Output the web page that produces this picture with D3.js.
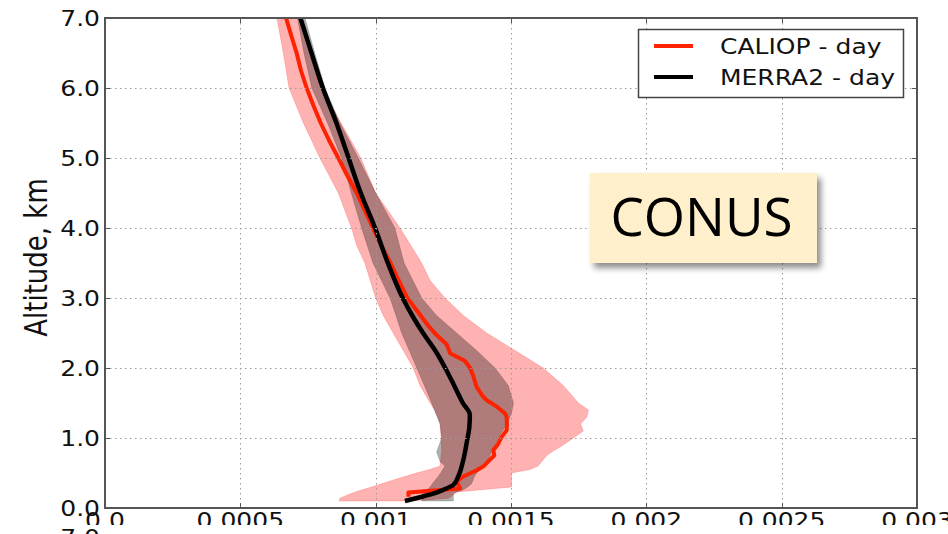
<!DOCTYPE html>
<html>
<head>
<meta charset="utf-8">
<script src="https://cdn.jsdelivr.net/npm/d3@7"></script>
<style>
  html, body { margin: 0; padding: 0; background: #fff; }
  svg { display: block; }
</style>
</head>
<body>
<svg id="chart" width="948" height="534"></svg>
<script>
// Extinction profiles over CONUS, daytime: CALIOP vs MERRA2
const xTicks = [0, 0.0005, 0.001, 0.0015, 0.002, 0.0025, 0.003];
const xTickLabels = ["0.0", "0.0005", "0.001", "0.0015", "0.002", "0.0025", "0.003"];
const yTicks = [0, 1, 2, 3, 4, 5, 6, 7];
const yTickLabels = ["0.0", "1.0", "2.0", "3.0", "4.0", "5.0", "6.0", "7.0"];
const seriesNames = ["CALIOP - day", "MERRA2 - day"];
const regionName = "CONUS";

// CALIOP mean profile (altitude km, value)
const caliopAlt = [0.16, 0.22, 0.28, 0.38, 0.45, 0.54, 0.60, 0.69, 0.75, 0.83, 0.90, 1.02, 1.11, 1.20, 1.30,
  1.35, 1.45, 1.54, 1.60, 1.73, 1.88, 2.00, 2.10, 2.21, 2.28, 2.34, 2.47, 2.60, 2.75, 3.00, 3.25, 3.50, 3.75,
  4.00, 4.25, 4.50, 4.75, 5.00, 5.25, 5.50, 5.75, 6.00, 6.25, 6.50, 6.75, 7.00];
const caliopMean = [0.001121, 0.001121, 0.001312, 0.001299, 0.001324, 0.001373, 0.001400, 0.001422, 0.001438,
  0.001435, 0.001450, 0.001466, 0.001484, 0.001485, 0.001484, 0.001478, 0.001447, 0.001410, 0.001395, 0.001373,
  0.001361, 0.001349, 0.001330, 0.001275, 0.001268, 0.001262, 0.001225, 0.001195, 0.001166, 0.001117, 0.001085,
  0.001055, 0.001020, 0.000990, 0.000960, 0.000930, 0.000895, 0.000862, 0.000828, 0.000797, 0.000770, 0.000745,
  0.000724, 0.000708, 0.000688, 0.000669];

// CALIOP spread (lower / upper edge)
const caliopBandAlt = [0.10, 0.14, 0.20, 0.23, 0.27, 0.30, 0.40, 0.50, 0.55, 0.60, 0.75, 0.80, 0.90, 1.00, 1.10,
  1.20, 1.30, 1.40, 1.50, 1.75, 2.00, 2.25, 2.50, 2.75, 3.00, 3.25, 3.50, 3.75, 4.00, 4.50, 5.00, 5.50, 6.00, 6.50, 7.00];
const caliopLow = [0.000865, 0.000868, 0.000905, 0.000925, 0.000960, 0.000985, 0.001065, 0.001151, 0.001200,
  0.001238, 0.001242, 0.001244, 0.001243, 0.001242, 0.001240, 0.001238, 0.001230, 0.001218, 0.001201, 0.001164,
  0.001139, 0.001102, 0.001065, 0.001028, 0.001000, 0.000980, 0.000960, 0.000930, 0.000911, 0.000862, 0.000794,
  0.000733, 0.000680, 0.000659, 0.000635];
const caliopHigh = [0.001130, 0.001270, 0.001290, 0.001300, 0.001420, 0.001502, 0.001502, 0.001502, 0.001570,
  0.001600, 0.001632, 0.001650, 0.001693, 0.001730, 0.001767, 0.001757, 0.001780, 0.001786, 0.001749, 0.001693,
  0.001619, 0.001515, 0.001410, 0.001324, 0.001256, 0.001201, 0.001170, 0.001130, 0.001090, 0.001000, 0.000945,
  0.000872, 0.000800, 0.000760, 0.000720];

// MERRA2 mean profile
const merraAlt = [0.10, 0.15, 0.19, 0.26, 0.33, 0.45, 0.69, 0.97, 1.15, 1.33, 1.50, 1.75, 2.00, 2.25, 2.50, 2.75,
  3.00, 3.50, 4.00, 4.50, 5.00, 5.50, 6.00, 6.50, 7.00];
const merraMean = [0.001108, 0.001160, 0.001200, 0.001250, 0.001287, 0.001305, 0.001324, 0.001338, 0.001346,
  0.001348, 0.001322, 0.001290, 0.001257, 0.001220, 0.001175, 0.001135, 0.001100, 0.001045, 0.000998, 0.000945,
  0.000900, 0.000855, 0.000805, 0.000763, 0.000722];

// MERRA2 spread
const merraBandAlt = [0.10, 0.21, 0.26, 0.30, 0.35, 0.45, 0.50, 0.60, 0.66, 0.80, 1.00, 1.20, 1.35, 1.50, 1.75,
  2.00, 2.25, 2.50, 2.75, 3.00, 3.50, 4.00, 4.50, 5.00, 5.50, 6.00, 6.50, 7.00];
const merraLow = [0.001170, 0.001176, 0.001190, 0.001201, 0.001210, 0.001231, 0.001240, 0.001256, 0.001238,
  0.001225, 0.001244, 0.001238, 0.001222, 0.001207, 0.001180, 0.001152, 0.001124, 0.001096, 0.001075, 0.001053,
  0.000990, 0.000948, 0.000910, 0.000874, 0.000822, 0.000764, 0.000735, 0.000711];
const merraHigh = [0.001287, 0.001287, 0.001324, 0.001340, 0.001355, 0.001365, 0.001373, 0.001404, 0.001410,
  0.001429, 0.001453, 0.001484, 0.001502, 0.001509, 0.001490, 0.001441, 0.001373, 0.001299, 0.001225, 0.001170,
  0.001105, 0.001071, 0.001000, 0.000936, 0.000868, 0.000813, 0.000775, 0.000739];

const svg = d3.select("#chart");
const plot = { left: 105, right: 917, top: 18, bottom: 508 };
const STRETCH = 1.22;          // horizontally widened text of the figure
const tickFont = "DejaVu Sans";
const caliopColor = "#ff2200";

const x = d3.scaleLinear().domain([0, 0.003]).range([plot.left, plot.right]);
const y = d3.scaleLinear().domain([0, 7]).range([plot.bottom, plot.top]);

const defs = svg.append("defs");
defs.append("clipPath").attr("id", "plotClip")
  .append("rect").attr("x", plot.left).attr("y", plot.top)
  .attr("width", plot.right - plot.left).attr("height", plot.bottom - plot.top);
defs.append("clipPath").attr("id", "tickClip")
  .append("rect").attr("x", 0).attr("y", 0).attr("width", 948).attr("height", 525);
const shadow = defs.append("filter").attr("id", "boxShadow")
  .attr("x", "-20%").attr("y", "-20%").attr("width", "140%").attr("height", "150%");
shadow.append("feDropShadow").attr("dx", 4).attr("dy", 5).attr("stdDeviation", 3)
  .attr("flood-color", "#000").attr("flood-opacity", 0.45);

function zipBand(alt, lo, hi) { return alt.map((a, i) => ({ a, lo: lo[i], hi: hi[i] })); }
function zipLine(alt, v) { return alt.map((a, i) => ({ a, v: v[i] })); }

// text helper: widened glyphs anchored at (px, py)
function wideText(parent, px, py, str, opts) {
  return parent.append("text")
    .attr("transform", `translate(${px},${py}) scale(${STRETCH},1)`)
    .attr("text-anchor", opts.anchor || "start")
    .attr("font-family", opts.family || tickFont)
    .attr("font-size", opts.size)
    .attr("fill", "#111")
    .text(str);
}

const area = d3.area().y(d => y(d.a)).x0(d => x(d.lo)).x1(d => x(d.hi));
const line = d3.line().x(d => x(d.v)).y(d => y(d.a));

const g = svg.append("g").attr("clip-path", "url(#plotClip)");

// spread bands
g.append("path").datum(zipBand(caliopBandAlt, caliopLow, caliopHigh))
  .attr("d", area).attr("fill", "rgb(255,0,0)").attr("fill-opacity", 0.3)
  .attr("stroke", "rgb(255,0,0)").attr("stroke-opacity", 0.18).attr("stroke-width", 1);
g.append("path").datum(zipBand(merraBandAlt, merraLow, merraHigh))
  .attr("d", area).attr("fill", "#000").attr("fill-opacity", 0.31)
  .attr("stroke", "#000").attr("stroke-opacity", 0.15).attr("stroke-width", 1);

// mean profiles
g.append("path").datum(zipLine(caliopAlt, caliopMean))
  .attr("d", line).attr("fill", "none").attr("stroke", caliopColor)
  .attr("stroke-width", 4).attr("stroke-linejoin", "round");
g.append("path").datum(zipLine(merraAlt, merraMean))
  .attr("d", line.curve(d3.curveMonotoneY)).attr("fill", "none").attr("stroke", "#000")
  .attr("stroke-width", 4.5).attr("stroke-linejoin", "round");

// dotted grid
const grid = svg.append("g").attr("stroke", "#9a9a9a").attr("stroke-width", 1)
  .attr("stroke-dasharray", "1.5,3.5");
grid.selectAll("line.gx").data(xTicks.slice(1, -1)).join("line")
  .attr("x1", d => Math.round(x(d)) + 0.5).attr("x2", d => Math.round(x(d)) + 0.5)
  .attr("y1", plot.top).attr("y2", plot.bottom);
grid.selectAll("line.gy").data(yTicks.slice(1, -1)).join("line")
  .attr("y1", d => Math.round(y(d)) + 0.5).attr("y2", d => Math.round(y(d)) + 0.5)
  .attr("x1", plot.left).attr("x2", plot.right);

// frame and inward ticks
svg.append("rect").attr("x", plot.left).attr("y", plot.top)
  .attr("width", plot.right - plot.left).attr("height", plot.bottom - plot.top)
  .attr("fill", "none").attr("stroke", "#555").attr("stroke-width", 2);
const ticks = svg.append("g").attr("stroke", "#555").attr("stroke-width", 1);
xTicks.forEach(t => {
  const px = Math.round(x(t)) + 0.5;
  ticks.append("line").attr("x1", px).attr("x2", px).attr("y1", plot.bottom).attr("y2", plot.bottom - 5);
  ticks.append("line").attr("x1", px).attr("x2", px).attr("y1", plot.top).attr("y2", plot.top + 5);
});
yTicks.forEach(t => {
  const py = Math.round(y(t)) + 0.5;
  ticks.append("line").attr("x1", plot.left).attr("x2", plot.left + 5).attr("y1", py).attr("y2", py);
  ticks.append("line").attr("x1", plot.right).attr("x2", plot.right - 5).attr("y1", py).attr("y2", py);
});

// y tick labels
const yLab = svg.append("g");
yTicks.forEach((t, i) => wideText(yLab, 100, y(t) + 7.5, yTickLabels[i], { anchor: "end", size: 20.5 }));
// x tick labels (the strip is cut at the bottom edge of the panel)
const xLab = svg.append("g").attr("clip-path", "url(#tickClip)");
xTicks.forEach((t, i) => wideText(xLab, x(t), 528, xTickLabels[i], { anchor: "middle", size: 20.5 }));
// top label of the panel underneath
wideText(svg, 100, 545, yTickLabels[7], { anchor: "end", size: 20.5 });

// axis title
svg.append("text")
  .attr("transform", `translate(47,257.5) scale(${STRETCH},1) rotate(-90)`)
  .attr("text-anchor", "middle").attr("font-family", tickFont).attr("font-size", 26)
  .attr("fill", "#111").text("Altitude, km");

// legend
const leg = svg.append("g");
leg.append("rect").attr("x", 638.5).attr("y", 29.5).attr("width", 265).attr("height", 68)
  .attr("fill", "#fff").attr("stroke", "#444").attr("stroke-width", 1.5);
[caliopColor, "#000"].forEach((c, i) => {
  const ly = 46 + i * 31;
  leg.append("line").attr("x1", 654).attr("x2", 693).attr("y1", ly).attr("y2", ly)
    .attr("stroke", c).attr("stroke-width", 4);
  wideText(leg, 720, ly + 7.5, seriesNames[i], { size: 20.5 });
});

// region tag
const tag = svg.append("g");
tag.append("rect").attr("x", 590).attr("y", 173).attr("width", 227).attr("height", 90)
  .attr("fill", "#ffefcb").attr("filter", "url(#boxShadow)");
tag.append("text").attr("x", 701.5).attr("y", 236).attr("text-anchor", "middle")
  .attr("font-family", "Open Sans").attr("font-size", 53).attr("fill", "#000").text(regionName);
</script>
</body>
</html>
